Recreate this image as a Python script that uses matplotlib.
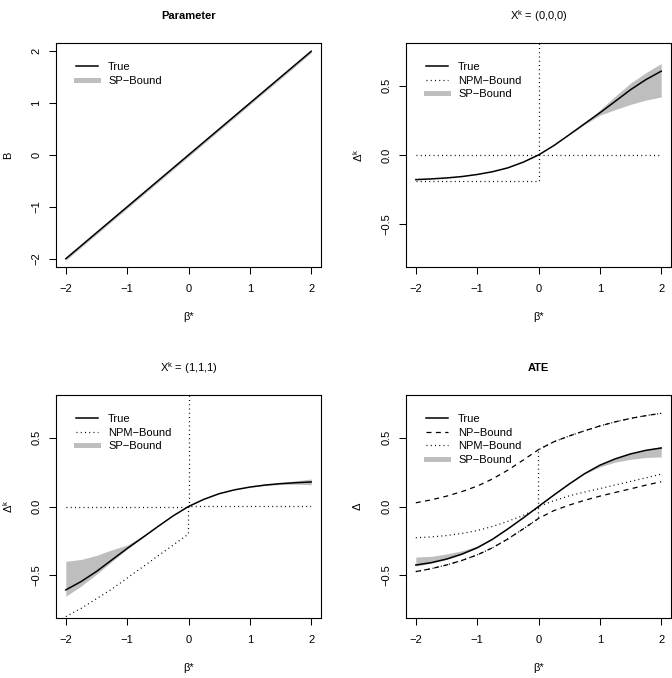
import matplotlib
matplotlib.use("Agg")
import matplotlib.pyplot as plt
from matplotlib.lines import Line2D

plt.rcParams['font.family'] = 'Liberation Sans'
plt.rcParams['font.size'] = 8
plt.rcParams['mathtext.fontset'] = 'custom'
plt.rcParams['mathtext.rm'] = 'Liberation Sans'
plt.rcParams['mathtext.it'] = 'Liberation Sans:italic'

# beta* grid
beta = [-2.0, -1.75, -1.5, -1.25, -1.0, -0.75, -0.5, -0.25, 0.0,
        0.25, 0.5, 0.75, 1.0, 1.25, 1.5, 1.75, 2.0]
beta_neg = [-2.0, -1.75, -1.5, -1.25, -1.0, -0.75, -0.5, -0.25, 0.0]
beta_pos = [0.0, 0.25, 0.5, 0.75, 1.0, 1.25, 1.5, 1.75, 2.0]

# Parameter panel
beta_par = [-2.0, -1.0, 0.0, 1.0, 2.0]
par_true = [-2.0, -1.0, 0.0, 1.0, 2.0]
par_sp_lo = [-2.03, -1.03, -0.03, 0.97, 1.97]
par_sp_hi = [-1.97, -0.97, 0.03, 1.03, 2.03]

# X^k = (0,0,0)
x000_true = [-0.178, -0.173, -0.166, -0.156, -0.141, -0.121, -0.093, -0.052, 0.0,
             0.068, 0.146, 0.226, 0.305, 0.388, 0.472, 0.545, 0.606]
x000_sp_lo = [-0.178, -0.173, -0.166, -0.156, -0.141, -0.121, -0.093, -0.052, 0.0,
              0.068, 0.146, 0.220, 0.288, 0.328, 0.366, 0.397, 0.420]
x000_sp_hi = [-0.178, -0.173, -0.166, -0.156, -0.141, -0.121, -0.093, -0.052, 0.0,
              0.068, 0.146, 0.232, 0.325, 0.425, 0.520, 0.595, 0.662]
x000_npm_lo_neg = [-0.185] * 9
x000_npm_lo_pos = [0.0] * 9
x000_npm_hi_neg = [0.0] * 9
x000_npm_hi_pos = [1.0] * 9

# X^k = (1,1,1)
x111_true = [-0.606, -0.545, -0.472, -0.388, -0.305, -0.226, -0.146, -0.068, 0.0,
             0.052, 0.093, 0.121, 0.141, 0.156, 0.166, 0.173, 0.178]
x111_sp_lo = [-0.652, -0.578, -0.492, -0.400, -0.310, -0.228, -0.146, -0.068, 0.0,
              0.052, 0.093, 0.121, 0.141, 0.152, 0.160, 0.162, 0.158]
x111_sp_hi = [-0.398, -0.385, -0.355, -0.315, -0.280, -0.215, -0.146, -0.068, 0.0,
              0.052, 0.093, 0.121, 0.141, 0.160, 0.172, 0.186, 0.200]
x111_npm_lo_neg = [-0.80, -0.74, -0.67, -0.60, -0.52, -0.44, -0.36, -0.28, -0.20]
x111_npm_lo_pos = [0.0] * 9
x111_npm_hi_neg = [0.0] * 9
x111_npm_hi_pos = [1.0] * 9

# ATE
ate_true = [-0.425, -0.408, -0.382, -0.346, -0.300, -0.238, -0.163, -0.083, 0.0,
            0.083, 0.163, 0.238, 0.300, 0.346, 0.382, 0.408, 0.425]
ate_sp_lo = [-0.432, -0.412, -0.385, -0.349, -0.302, -0.240, -0.164, -0.084, 0.0,
             0.082, 0.162, 0.236, 0.288, 0.322, 0.343, 0.356, 0.360]
ate_sp_hi = [-0.367, -0.362, -0.345, -0.322, -0.288, -0.236, -0.162, -0.082, 0.0,
             0.084, 0.164, 0.240, 0.302, 0.349, 0.385, 0.412, 0.435]
ate_np_lo = [-0.473, -0.452, -0.425, -0.392, -0.352, -0.300, -0.236, -0.163, -0.087,
             -0.030, 0.010, 0.045, 0.075, 0.102, 0.128, 0.155, 0.180]
ate_np_hi = [0.027, 0.048, 0.075, 0.108, 0.148, 0.200, 0.264, 0.337, 0.413,
             0.470, 0.512, 0.550, 0.585, 0.615, 0.640, 0.660, 0.677]
ate_npm_lo_neg = [-0.473, -0.452, -0.425, -0.392, -0.352, -0.300, -0.236, -0.163, -0.087]
ate_npm_lo_pos = [0.0, 0.042, 0.077, 0.105, 0.130, 0.156, 0.182, 0.208, 0.235]
ate_npm_hi_neg = [-0.227, -0.221, -0.211, -0.196, -0.175, -0.145, -0.108, -0.065, -0.012]
ate_npm_hi_pos = [0.413, 0.470, 0.512, 0.550, 0.585, 0.615, 0.640, 0.660, 0.677]

GRAY = '#BEBEBE'
DOT = (0, (0.8, 2.6))
DASH = (0, (4, 3.5))

fig = plt.figure(figsize=(6.72, 6.78), dpi=100)
W, H = 672, 678


def make_axes(x0, y0, x1, y1):
    return fig.add_axes([x0 / W, 1 - y1 / H, (x1 - x0) / W, (y1 - y0) / H])


def style(ax, ylim, yticks, ylabel, title, bold):
    ax.set_xlim(-2.16, 2.16)
    ax.set_ylim(*ylim)
    ax.set_xticks([-2, -1, 0, 1, 2])
    ax.set_yticks(yticks)
    ax.tick_params(direction='out', length=5, width=0.75)
    ax.tick_params(axis='x', pad=7.5)
    ax.tick_params(axis='y', labelrotation=90, pad=5.5)
    for lab in ax.get_yticklabels():
        lab.set_va('center')
    for sp in ax.spines.values():
        sp.set_linewidth(0.8)
    h = ax.bbox.height
    w = ax.bbox.width
    ax.set_xlabel('β*')
    ax.xaxis.label.set_va('center')
    ax.xaxis.set_label_coords(0.5, -50 / h)
    ax.set_ylabel(ylabel)
    ax.yaxis.label.set_va('center')
    ax.yaxis.set_label_coords(-48 / w, 0.5)
    ax.set_title(title, fontweight='bold' if bold else 'normal',
                 y=1 + 27 / h, va='center', pad=0, fontsize=8)


def add_legend(ax, handles, labels):
    h = ax.bbox.height
    w = ax.bbox.width
    ax.legend(handles, labels, loc='upper left', bbox_to_anchor=(20 / w, 1 - 19 / h),
              frameon=False, handlelength=2.0, handletextpad=0.9, labelspacing=0.33,
              borderpad=0, borderaxespad=0, fontsize=8)


h_true = Line2D([], [], color='black', lw=1.1)
h_np = Line2D([], [], color='black', lw=0.9, ls=DASH)
h_npm = Line2D([], [], color='black', lw=0.9, ls=DOT)
h_sp = Line2D([], [], color=GRAY, lw=3.6)

# Parameter
ax1 = make_axes(56, 43, 321, 267)
ax1.fill_between(beta_par, par_sp_lo, par_sp_hi, color=GRAY, lw=0)
ax1.plot(beta_par, par_true, color='black', lw=1.1)
style(ax1, (-2.16, 2.16), [-2, -1, 0, 1, 2], 'B', 'Parameter', True)
add_legend(ax1, [h_true, h_sp], ['True', 'SP\u2212Bound'])

# X^k = (0,0,0)
ax2 = make_axes(406, 43, 671, 267)
ax2.fill_between(beta, x000_sp_lo, x000_sp_hi, color=GRAY, lw=0)
ax2.plot(beta_neg + beta_pos, x000_npm_lo_neg + x000_npm_lo_pos, color='black', lw=0.9, ls=DOT)
ax2.plot(beta_neg + beta_pos, x000_npm_hi_neg + x000_npm_hi_pos, color='black', lw=0.9, ls=DOT)
ax2.plot(beta, x000_true, color='black', lw=1.1)
style(ax2, (-0.81, 0.81), [-0.5, 0.0, 0.5], r'$\mathregular{\Delta^k}$',
      r'$\mathregular{X^k}$ = (0,0,0)', False)
add_legend(ax2, [h_true, h_npm, h_sp], ['True', 'NPM\u2212Bound', 'SP\u2212Bound'])

# X^k = (1,1,1)
ax3 = make_axes(56, 395, 321, 618)
ax3.fill_between(beta, x111_sp_lo, x111_sp_hi, color=GRAY, lw=0)
ax3.plot(beta_neg + beta_pos, x111_npm_lo_neg + x111_npm_lo_pos, color='black', lw=0.9, ls=DOT)
ax3.plot(beta_neg + beta_pos, x111_npm_hi_neg + x111_npm_hi_pos, color='black', lw=0.9, ls=DOT)
ax3.plot(beta, x111_true, color='black', lw=1.1)
style(ax3, (-0.81, 0.81), [-0.5, 0.0, 0.5], r'$\mathregular{\Delta^k}$',
      r'$\mathregular{X^k}$ = (1,1,1)', False)
add_legend(ax3, [h_true, h_npm, h_sp], ['True', 'NPM\u2212Bound', 'SP\u2212Bound'])

# ATE
ax4 = make_axes(406, 395, 671, 618)
ax4.fill_between(beta, ate_sp_lo, ate_sp_hi, color=GRAY, lw=0)
ax4.plot(beta, ate_np_lo, color='black', lw=0.9, ls=DASH)
ax4.plot(beta, ate_np_hi, color='black', lw=0.9, ls=DASH)
ax4.plot(beta_neg + beta_pos, ate_npm_lo_neg + ate_npm_lo_pos, color='black', lw=0.9, ls=DOT)
ax4.plot(beta_neg + beta_pos, ate_npm_hi_neg + ate_npm_hi_pos, color='black', lw=0.9, ls=DOT)
ax4.plot(beta, ate_true, color='black', lw=1.1)
style(ax4, (-0.81, 0.81), [-0.5, 0.0, 0.5], 'Δ', 'ATE', True)
add_legend(ax4, [h_true, h_np, h_npm, h_sp],
           ['True', 'NP\u2212Bound', 'NPM\u2212Bound', 'SP\u2212Bound'])

fig.savefig('out.png', dpi=100)
